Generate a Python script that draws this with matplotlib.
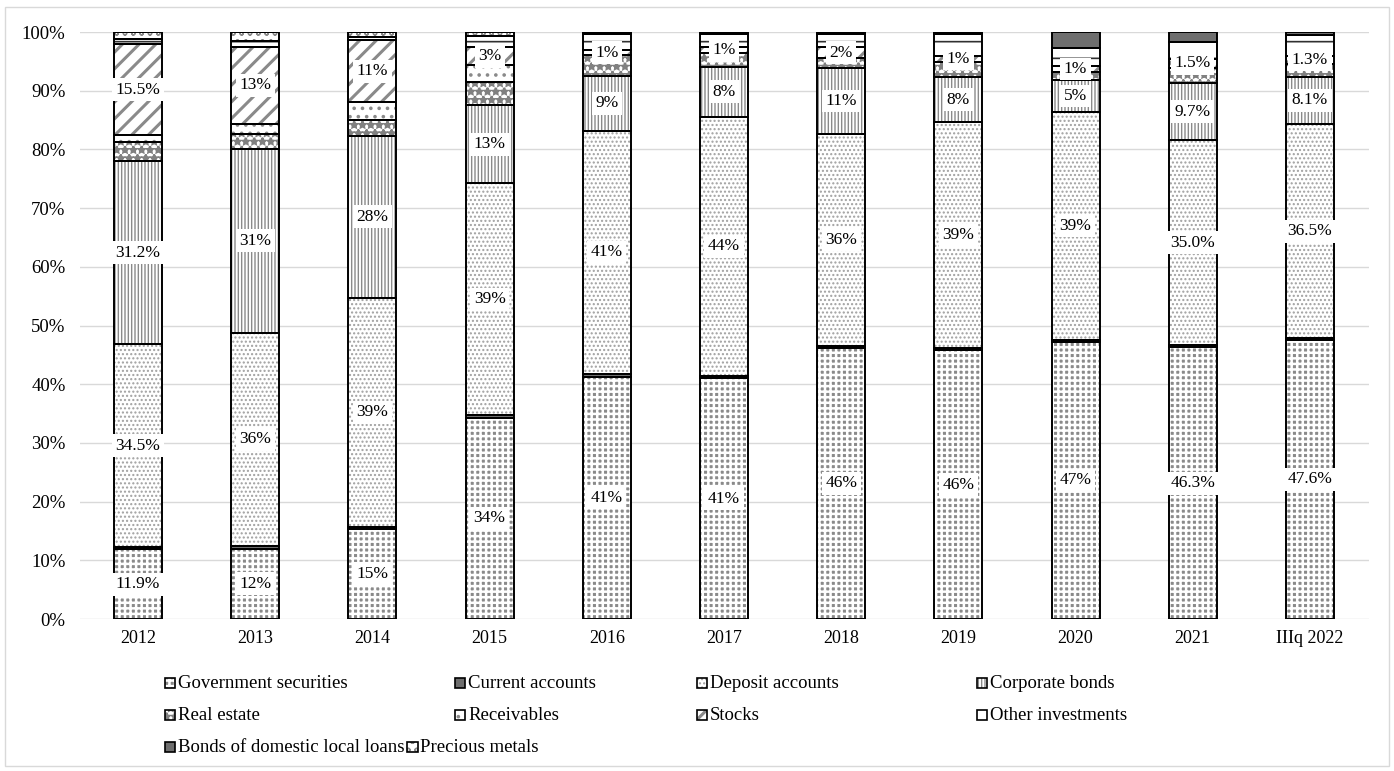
import matplotlib.pyplot as plt
from matplotlib.patches import Rectangle
import numpy as np

plt.rcParams['font.family'] = ['Liberation Serif', 'DejaVu Serif']
plt.rcParams['hatch.linewidth'] = 1.0

years = ['2012', '2013', '2014', '2015', '2016', '2017', '2018', '2019', '2020', '2021', 'IIIq 2022']
decimals = [1, 0, 0, 0, 0, 0, 0, 0, 0, 1, 1]

# shares of assets, %
gov_securities = [11.9, 12.0, 15.4, 34.3, 41.3, 41.0, 46.2, 45.8, 47.2, 46.3, 47.6]
current_accounts = [0.4, 0.4, 0.3, 0.5, 0.5, 0.4, 0.3, 0.3, 0.3, 0.3, 0.2]
deposit_accounts = [34.5, 36.4, 39.0, 39.4, 41.4, 44.2, 36.2, 38.6, 38.9, 35.0, 36.5]
corporate_bonds = [31.2, 31.2, 27.6, 13.4, 9.3, 8.4, 11.1, 7.6, 5.4, 9.7, 8.1]
real_estate = [3.2, 2.7, 2.7, 3.8, 3.5, 2.4, 1.7, 2.6, 1.4, 2.6, 2.2]
receivables = [1.2, 1.6, 3.0, 2.9, 0.0, 0.0, 0.0, 0.0, 0.0, 0.0, 0.0]
stocks = [15.5, 13.2, 10.6, 3.2, 1.0, 1.0, 2.0, 1.0, 1.0, 1.5, 1.3]
other_investments = [0.9, 0.9, 0.6, 1.9, 2.6, 2.2, 2.1, 3.7, 3.0, 2.9, 3.6]
precious_metals = [1.2, 1.6, 0.8, 0.6, 0.4, 0.4, 0.4, 0.4, 0.0, 0.0, 0.0]
bonds_local = [0.0, 0.0, 0.0, 0.0, 0.0, 0.0, 0.0, 0.0, 2.8, 1.7, 0.5]

# name, values, face, hatch, hatch colour, hatch width, labelled
series = [
    ('Government securities', gov_securities, '#8a8a8a', '+++', 'white', 1.8, True),
    ('Current accounts', current_accounts, '#6e6e6e', None, '#6e6e6e', 1.0, False),
    ('Deposit accounts', deposit_accounts, 'white', '....', '#a0a0a0', 1.0, True),
    ('Corporate bonds', corporate_bonds, 'white', '|||||', '#8a8a8a', 1.0, True),
    ('Real estate', real_estate, 'white', '**', '#808080', 1.6, False),
    ('Receivables', receivables, 'white', '..', '#8a8a8a', 1.4, False),
    ('Stocks', stocks, 'white', '//', '#8a8a8a', 2.2, True),
    ('Other investments', other_investments, 'white', '-', '#303030', 1.2, False),
    ('Precious metals', precious_metals, 'white', 'oo', '#8a8a8a', 1.0, False),
    ('Bonds of domestic local loans', bonds_local, '#6e6e6e', None, '#6e6e6e', 1.0, False),
]
styles = {s[0]: s for s in series}

legend_rows = [
    ['Government securities', 'Current accounts', 'Deposit accounts', 'Corporate bonds'],
    ['Real estate', 'Receivables', 'Stocks', 'Other investments'],
    ['Bonds of domestic local loans', 'Precious metals'],
]
legend_x = [165, 455, 697, 977]
legend_y = [683, 715, 747]

W, H = 1394, 771
fig = plt.figure(figsize=(W / 100, H / 100), dpi=100)
ax = fig.add_axes([79.5 / W, 1 - 619 / H, 1289 / W, 587 / H])

x = np.arange(len(years))
width = 0.41
bottom = np.zeros(len(years))
for name, vals, face, hatch, hc, hw, labelled in series:
    vals = np.array(vals) / 100
    with plt.rc_context({'hatch.linewidth': hw}):
        ax.bar(x, vals, width, bottom=bottom, color=face, hatch=hatch,
               edgecolor=hc, linewidth=0, zorder=2)
    ax.bar(x, vals, width, bottom=bottom, fill=False, edgecolor='black',
           linewidth=1.4, zorder=3)
    if labelled:
        for i in range(len(years)):
            ax.text(x[i], bottom[i] + vals[i] / 2, f"{vals[i] * 100:.{decimals[i]}f}%",
                    ha='center', va='center', fontsize=12.5, zorder=5,
                    bbox=dict(facecolor='white', edgecolor='none', pad=2.5))
    bottom += vals

ax.set_ylim(0, 1)
ax.set_xlim(-0.5, len(years) - 0.5)
ticks = np.arange(0, 1.01, 0.1)
ax.set_yticks(ticks)
ax.set_yticklabels([f"{int(round(t * 100))}%" for t in ticks], fontsize=13.5)
ax.set_xticks(x)
ax.set_xticklabels(years, fontsize=13)
ax.tick_params(length=0, pad=10)
ax.tick_params(axis='x', pad=8)
ax.yaxis.grid(True, color='#d9d9d9', linewidth=1, zorder=0)
ax.set_axisbelow(True)
for sp in ax.spines.values():
    sp.set_visible(False)

# legend drawn by hand to follow the reference layout
fig.canvas.draw()
renderer = fig.canvas.get_renderer()
for r, row in enumerate(legend_rows):
    xpos = legend_x[0]
    for c, name in enumerate(row):
        _, _, face, hatch, hc, hw, _ = styles[name]
        if r < 2 or c == 0:
            xpos = legend_x[c]
        x0 = xpos / W
        y0 = 1 - (legend_y[r] + 5) / H
        with plt.rc_context({'hatch.linewidth': hw}):
            fig.add_artist(Rectangle((x0, y0), 10 / W, 10 / H, transform=fig.transFigure,
                                     facecolor=face, hatch=hatch, edgecolor=hc, linewidth=0))
        fig.add_artist(Rectangle((x0, y0), 10 / W, 10 / H, transform=fig.transFigure,
                                 fill=False, edgecolor='black', linewidth=1.2))
        t = fig.text(x0 + 13 / W, 1 - legend_y[r] / H, name, fontsize=13.5, va='center', ha='left')
        # next entry in the last row follows straight after the text
        xpos = t.get_window_extent(renderer).x1 + 3

fig.add_artist(Rectangle((5 / W, 5 / H), 1384 / W, 759 / H, transform=fig.transFigure,
                         fill=False, edgecolor='#d9d9d9', linewidth=1))

fig.savefig('out.png', dpi=100)
